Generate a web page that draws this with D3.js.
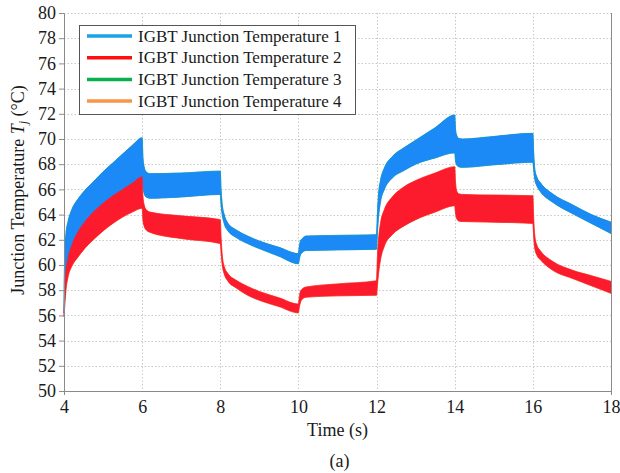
<!DOCTYPE html>
<html>
<head>
<meta charset="utf-8">
<script src="https://cdn.jsdelivr.net/npm/d3@7"></script>
<style>
  html, body { margin: 0; padding: 0; background: #fff; }
  svg { display: block; }
  svg text { font-family: "Liberation Serif", "Times New Roman", serif; }
</style>
</head>
<body>
<svg id="chart" width="620" height="473"></svg>
<script>
// ---- data ----
const seriesNames = ["IGBT Junction Temperature 1", "IGBT Junction Temperature 2",
                     "IGBT Junction Temperature 3", "IGBT Junction Temperature 4"];
const xTicks = [4, 6, 8, 10, 12, 14, 16, 18];
const yTicks = [50, 52, 54, 56, 58, 60, 62, 64, 66, 68, 70, 72, 74, 76, 78, 80];

const time = [
  4.0, 4.02, 4.05, 4.1, 4.2, 4.35, 4.5, 4.75, 5.0, 5.25, 5.5, 5.75, 6.0,
  6.02, 6.05, 6.1, 6.2, 7.0, 8.0,
  8.02, 8.05, 8.1, 8.2, 8.4, 8.7, 9.0, 9.5, 10.0,
  10.02, 10.05, 10.1, 10.2, 11.0, 12.0,
  12.02, 12.05, 12.1, 12.2, 12.4, 12.7, 13.0, 13.5, 14.0,
  14.02, 14.05, 14.1, 14.2, 15.0, 16.0,
  16.02, 16.05, 16.1, 16.2, 16.5, 17.0, 17.5, 18.0
];
// envelope of the ripple band (max / min) for each IGBT
const tj1Upper = [
  57.5, 61.0, 62.5, 63.4, 64.4, 65.2, 65.8, 66.6, 67.4, 68.1, 68.8, 69.5, 70.1,
  68.6, 67.8, 67.4, 67.25, 67.3, 67.45,
  66.0, 64.8, 64.0, 63.3, 62.8, 62.3, 61.9, 61.4, 60.9,
  61.4, 61.9, 62.1, 62.3, 62.35, 62.4,
  64.0, 65.6, 66.7, 67.7, 68.6, 69.3, 69.9, 70.9, 71.9,
  70.8, 70.3, 70.05, 70.0, 70.2, 70.45,
  69.0, 67.6, 67.0, 66.5, 65.65, 64.8, 64.0, 63.4
];
const tj1Lower = [
  56.2, 57.5, 58.8, 59.7, 60.8, 61.8, 62.5, 63.5, 64.3, 64.9, 65.5, 66.0, 66.6,
  66.2, 65.7, 65.4, 65.3, 65.4, 65.6,
  64.8, 64.0, 63.3, 62.7, 62.2, 61.7, 61.3, 60.7, 60.1,
  60.4, 60.8, 61.0, 61.15, 61.2, 61.25,
  62.5, 63.8, 65.0, 66.0, 66.9, 67.5, 68.0, 68.5, 68.9,
  68.3, 67.95, 67.8, 67.75, 67.95, 68.15,
  67.6, 66.8, 66.3, 65.8, 65.0, 64.1, 63.3, 62.5
];
const tj2Upper = [
  56.3, 58.0, 59.5, 60.5, 61.6, 62.6, 63.3, 64.2, 64.9, 65.5, 66.0, 66.5, 67.0,
  65.5, 64.8, 64.4, 64.2, 63.9, 63.6,
  62.2, 60.8, 59.9, 59.3, 58.8, 58.3, 57.9, 57.4, 56.9,
  57.4, 57.9, 58.1, 58.25, 58.5, 58.75,
  60.5, 62.0, 63.3, 64.4, 65.4, 66.2, 66.7, 67.3, 67.8,
  66.6, 65.9, 65.65, 65.6, 65.55, 65.5,
  63.8, 62.3, 61.6, 61.1, 60.3, 59.6, 59.15, 58.7
];
const tj2Lower = [
  55.9, 56.8, 58.0, 59.0, 59.9, 60.6, 61.2, 62.0, 62.7, 63.3, 63.8, 64.2, 64.5,
  63.6, 63.1, 62.8, 62.6, 62.1, 61.7,
  61.0, 60.0, 59.3, 58.7, 58.2, 57.6, 57.2, 56.7, 56.2,
  56.6, 57.0, 57.3, 57.45, 57.55, 57.6,
  58.3, 59.3, 60.4, 61.5, 62.4, 63.1, 63.6, 64.2, 64.7,
  64.1, 63.7, 63.5, 63.45, 63.4, 63.3,
  62.3, 61.3, 60.8, 60.4, 59.6, 58.95, 58.35, 57.75
];
// IGBT 3 and 4 coincide with IGBT 1 and 2 (symmetric devices) and are hidden beneath them
const tj3Upper = tj1Upper, tj3Lower = tj1Lower;
const tj4Upper = tj2Upper, tj4Lower = tj2Lower;

// ---- styles ----
const FONT = '"Liberation Serif", "Times New Roman", serif';
const bandColors   = ["#1b8af6", "#fb1b2c", "#00b050", "#f79646"];
const legendColors = ["#1ba3e6", "#ff1010", "#08b04c", "#f7964a"];

const svg = d3.select("#chart");
const x = d3.scaleLinear().domain([4, 18]).range([64, 611]);
const y = d3.scaleLinear().domain([50, 80]).range([391, 13]);

// grid
const grid = svg.append("g").attr("stroke", "#c8c8c8").attr("stroke-width", 1)
  .attr("stroke-dasharray", "1.5,2");
grid.selectAll("line.h").data(yTicks.filter(v => v > 50)).join("line")
  .attr("x1", x(4)).attr("x2", x(18))
  .attr("y1", d => Math.round(y(d)) + 0.5).attr("y2", d => Math.round(y(d)) + 0.5);
grid.selectAll("line.v").data(xTicks.filter(v => v > 4 && v < 18)).join("line")
  .attr("x1", d => Math.round(x(d)) + 0.5).attr("x2", d => Math.round(x(d)) + 0.5)
  .attr("y1", y(80)).attr("y2", y(50));

// bands
const series = [
  {up: tj3Upper, lo: tj3Lower, c: bandColors[2]},
  {up: tj4Upper, lo: tj4Lower, c: bandColors[3]},
  {up: tj1Upper, lo: tj1Lower, c: bandColors[0]},
  {up: tj2Upper, lo: tj2Lower, c: bandColors[1]}
];
const area = d3.area().curve(d3.curveMonotoneX)
  .x(d => x(d.t)).y0(d => y(d.lo)).y1(d => y(d.up));
series.forEach(s => {
  const pts = time.map((t, i) => ({t, up: s.up[i], lo: s.lo[i]}));
  svg.append("path").datum(pts).attr("d", area)
    .attr("fill", s.c).attr("stroke", s.c).attr("stroke-width", 0.6);
});

// axes
const axisColor = "#8a8a8a";
const yAxis = svg.append("g").attr("transform", `translate(${x(4)},0)`)
  .call(d3.axisLeft(y).tickValues(yTicks).tickSize(5).tickPadding(3));
const xAxis = svg.append("g").attr("transform", `translate(0,${y(50)})`)
  .call(d3.axisBottom(x).tickValues(xTicks).tickSize(0).tickPadding(9));
[yAxis, xAxis].forEach(g => {
  g.attr("font-family", FONT).attr("font-size", 18);
  g.select(".domain").attr("stroke", axisColor);
  g.selectAll(".tick line").attr("stroke", axisColor);
  g.selectAll("text").attr("fill", "#1a1a1a");
});
// right border and end ticks below the x axis
svg.append("line").attr("x1", x(18) + 0.5).attr("x2", x(18) + 0.5)
  .attr("y1", y(80)).attr("y2", y(50) + 4).attr("stroke", axisColor);
svg.append("line").attr("x1", x(4) + 0.5).attr("x2", x(4) + 0.5)
  .attr("y1", y(50)).attr("y2", y(50) + 4).attr("stroke", axisColor);

// axis titles
svg.append("text").attr("x", (x(4) + x(18)) / 2).attr("y", 436)
  .attr("text-anchor", "middle").attr("font-size", 18).attr("fill", "#1a1a1a")
  .attr("font-family", FONT).text("Time (s)");
svg.append("text").attr("x", (x(4) + x(18)) / 2 + 2).attr("y", 467)
  .attr("text-anchor", "middle").attr("font-size", 18).attr("fill", "#1a1a1a")
  .attr("font-family", FONT).text("(a)");
const yl = svg.append("text").attr("transform", `translate(24,190) rotate(-90)`)
  .attr("text-anchor", "middle").attr("font-size", 18).attr("fill", "#1a1a1a")
  .attr("font-family", FONT);
yl.append("tspan").text("Junction Temperature ");
yl.append("tspan").attr("font-style", "italic").text("T");
yl.append("tspan").attr("font-style", "italic").attr("font-size", 12).attr("dy", 3).text("j");
yl.append("tspan").attr("dy", -3).text(" (°C)");

// legend
const lg = svg.append("g").attr("font-family", FONT);
lg.append("rect").attr("x", 79.5).attr("y", 25.5).attr("width", 276).attr("height", 89)
  .attr("fill", "#fff").attr("stroke", "#555").attr("stroke-width", 1);
seriesNames.forEach((name, i) => {
  const cy = 36 + i * 21.7;
  lg.append("line").attr("x1", 87).attr("x2", 132).attr("y1", cy).attr("y2", cy)
    .attr("stroke", legendColors[i]).attr("stroke-width", 3.5);
  lg.append("text").attr("x", 138).attr("y", cy + 5.5).attr("font-size", 17)
    .attr("fill", "#1a1a1a").text(name);
});
</script>
</body>
</html>
